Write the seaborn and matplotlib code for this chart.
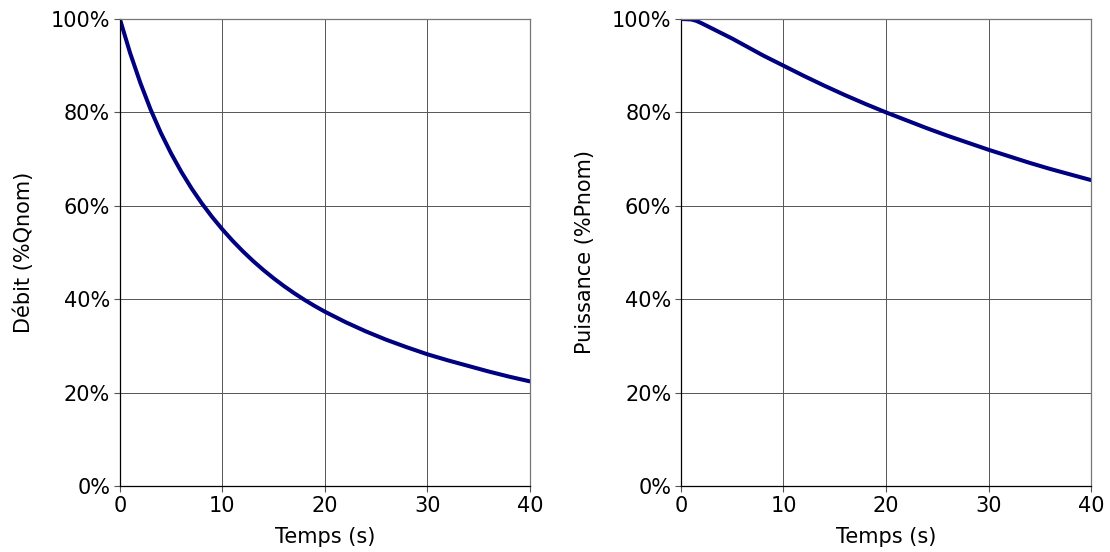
#!/usr/bin/env python3

import matplotlib
matplotlib.use("Agg")
import matplotlib.pyplot as plt
import pandas as pd
import seaborn as sns
from matplotlib.ticker import PercentFormatter
from typing import List


# flow decay after pump trip (left) and power (right)
t_q: List[float] = [0, 1, 2, 3, 4, 5, 6, 7, 8, 9, 10,
                    11, 12, 13, 14, 15, 16, 17, 18, 19, 20,
                    22, 24, 26, 28, 30, 32, 34, 36, 38, 40]
debit: List[float] = [100, 92.7, 86.3, 80.6, 75.6, 71.2, 67.25, 63.7, 60.5, 57.6, 54.95,
                      52.5, 50.25, 48.17, 46.25, 44.47, 42.82, 41.29, 39.87, 38.55, 37.32,
                      35.1, 33.1, 31.3, 29.7, 28.2, 26.9, 25.7, 24.5, 23.4, 22.4]

t_p: List[float] = [0, 1, 1.5, 2, 3, 4, 5, 6, 8, 10, 12, 14, 16, 18, 20,
                    22, 24, 26, 28, 30, 32, 34, 36, 38, 40]
puissance: List[float] = [100, 99.9, 99.6, 99.1, 98, 96.9, 95.8, 94.6, 92.2, 90, 87.8, 85.7, 83.7, 81.8, 80,
                          78.3, 76.6, 75, 73.5, 72, 70.6, 69.2, 67.9, 66.7, 65.5]

df_q: pd.DataFrame = pd.DataFrame({"t": t_q, "v": debit})
df_p: pd.DataFrame = pd.DataFrame({"t": t_p, "v": puissance})

sns.set_style("white")
plt.rcParams["font.family"] = ["DejaVu Sans"]

fig = plt.figure(figsize=(11.1, 5.52), dpi=100)
ax1 = fig.add_axes([0.108, 0.1196, 0.3694, 0.846])
ax2 = fig.add_axes([0.6135, 0.1196, 0.3694, 0.846])

for ax, df, ylab in [(ax1, df_q, "Débit (%Qnom)"), (ax2, df_p, "Puissance (%Pnom)")]:
    sns.lineplot(data=df, x="t", y="v", ax=ax, color="#000080", linewidth=2.9)
    ax.set_xlim(0, 40)
    ax.set_ylim(0, 100)
    ax.set_xticks([0, 10, 20, 30, 40])
    ax.set_yticks([0, 20, 40, 60, 80, 100])
    ax.yaxis.set_major_formatter(PercentFormatter(decimals=0))
    ax.grid(True, color="#555555", linewidth=0.7)
    ax.set_axisbelow(True)
    ax.tick_params(axis="both", labelsize=15, labelcolor="black", length=4, width=0.8,
                   color="#555555", direction="out", bottom=True, left=True, pad=3)
    ax.set_xlabel("Temps (s)", fontsize=15, color="black", labelpad=8)
    ax.set_ylabel(ylab, fontsize=15, color="black", labelpad=12)
    for side in ["left", "bottom"]:
        ax.spines[side].set_color("black")
        ax.spines[side].set_linewidth(0.9)
    for side in ["top", "right"]:
        ax.spines[side].set_color("#777777")
        ax.spines[side].set_linewidth(0.9)

fig.savefig("out.png", dpi=100)
